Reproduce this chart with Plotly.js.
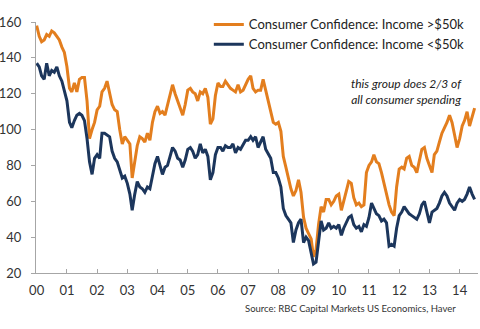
<!DOCTYPE html>
<html>
<head>
<meta charset="utf-8">
<script src="https://cdn.plot.ly/plotly-3.0.1.min.js"></script>
<style>html,body{margin:0;padding:0;background:#fff;}#chart{width:480px;height:329px;}</style>
</head>
<body>
<div id="chart"></div>
<script>
// Monthly readings, Jan 2000 to Jul 2014
const startYear = 2000;
const startMonth = 1;
const seriesNames = ["Consumer Confidence: Income >$50k", "Consumer Confidence: Income <$50k"];
const incomeAbove50k = [
  158,152,149,150,153,152,155,154,152,150,146,143,
  135,123,121,126,121,128,129,129,116,95,100,104,
  111,113,121,123,127,121,114,111,110,100,92,96,
  94,92,73,82,91,96,95,93,98,94,104,110,
  113,109,110,108,114,119,125,120,116,112,108,114,
  122,123,121,120,116,121,120,123,118,103,106,119,
  126,124,124,127,125,123,122,121,125,121,122,125,
  128,130,123,121,122,122,128,122,116,110,104,103,
  104,99,85,79,73,67,63,66,72,65,51,45,
  42,39,29,33,47,57,54,61,61,58,60,63,
  64,55,60,66,71,70,62,58,59,57,58,76,
  80,82,86,82,81,76,70,65,58,54,52,68,
  78,79,78,84,85,80,79,76,83,89,90,84,
  80,76,86,88,93,98,101,104,108,104,97,90,
  95,102,105,110,102,108,112
];
const incomeBelow50k = [
  137,135,130,128,137,130,133,132,135,130,127,122,
  116,104,101,105,108,109,108,105,95,82,75,84,
  86,84,98,98,97,96,88,84,82,77,73,74,
  70,64,55,64,71,68,67,65,68,67,75,81,
  85,80,75,79,80,85,90,88,84,83,79,83,
  89,90,88,84,86,92,87,89,85,72,76,86,
  90,90,88,91,90,90,92,87,90,89,92,94,
  94,96,94,96,90,93,96,89,86,84,76,76,
  73,68,56,52,50,48,37,44,48,50,37,40,
  38,31,25,26,38,49,44,45,48,45,46,45,
  47,41,45,48,51,52,47,45,46,43,47,46,
  51,59,56,53,52,49,50,48,35,36,35,45,
  52,54,57,55,53,52,51,50,53,58,60,54,
  48,54,55,56,59,63,65,63,59,57,55,59,
  61,60,61,64,68,64,61
];
const yTickValues = [20, 40, 60, 80, 100, 120, 140, 160];
const noteLines = ["this group does 2/3 of", "all consumer spending"];
const sourceText = "Source: RBC Capital Markets US Economics, Haver";

function monthDates(n) {
  const out = [];
  for (let i = 0; i < n; i++) {
    const y = startYear + Math.floor((startMonth - 1 + i) / 12);
    const m = ((startMonth - 1 + i) % 12) + 1;
    out.push(y + "-" + String(m).padStart(2, "0") + "-01");
  }
  return out;
}
const dates = monthDates(incomeAbove50k.length);

const FONT = "Lato, 'Open Sans', sans-serif";
const traces = [
  {x: dates, y: incomeAbove50k, name: seriesNames[0], type: "scatter", mode: "lines",
   line: {color: "#E37E1E", width: 3}},
  {x: dates, y: incomeBelow50k, name: seriesNames[1], type: "scatter", mode: "lines",
   line: {color: "#1C365C", width: 3}}
];
const layout = {
  width: 480, height: 329,
  margin: {l: 36, r: 2, t: 22, b: 56},
  paper_bgcolor: "#fff", plot_bgcolor: "#fff",
  font: {family: FONT, size: 12, color: "#333"},
  showlegend: true,
  legend: {x: 0.391, xanchor: "left", y: 1.05, yanchor: "top",
           bgcolor: "rgba(0,0,0,0)", font: {family: FONT, size: 13, color: "#222"},
           tracegroupgap: 0},
  xaxis: {type: "date", range: ["1999-12-24", "2014-08-11"],
          tick0: "2000-01-01", dtick: "M12", tickformat: "%y",
          ticks: "inside", ticklen: 4, tickcolor: "#A6A6A6",
          showline: true, linecolor: "#A6A6A6", linewidth: 1,
          showgrid: false, zeroline: false, ticklabelstandoff: 5,
          tickfont: {family: FONT, size: 13, color: "#333"}},
  yaxis: {range: [20, 160], tickvals: yTickValues,
          ticks: "outside", ticklen: 4, tickcolor: "#A6A6A6",
          showline: true, linecolor: "#A6A6A6", linewidth: 1,
          showgrid: false, zeroline: false, ticklabelstandoff: 7,
          tickfont: {family: FONT, size: 13, color: "#333"}},
  annotations: [
    {xref: "paper", yref: "paper", x: 0.968, y: 0.722, xanchor: "right", yanchor: "middle",
     text: "<i>" + noteLines.join("<br>") + "</i>", align: "right", showarrow: false,
     font: {family: FONT, size: 12, color: "#222"}},
    {xref: "paper", yref: "paper", x: 0.955, y: -0.143, xanchor: "right", yanchor: "middle",
     text: sourceText, showarrow: false,
     font: {family: FONT, size: 9.5, color: "#333"}}
  ]
};
Plotly.newPlot("chart", traces, layout, {displayModeBar: false, staticPlot: true});
</script>
</body>
</html>
